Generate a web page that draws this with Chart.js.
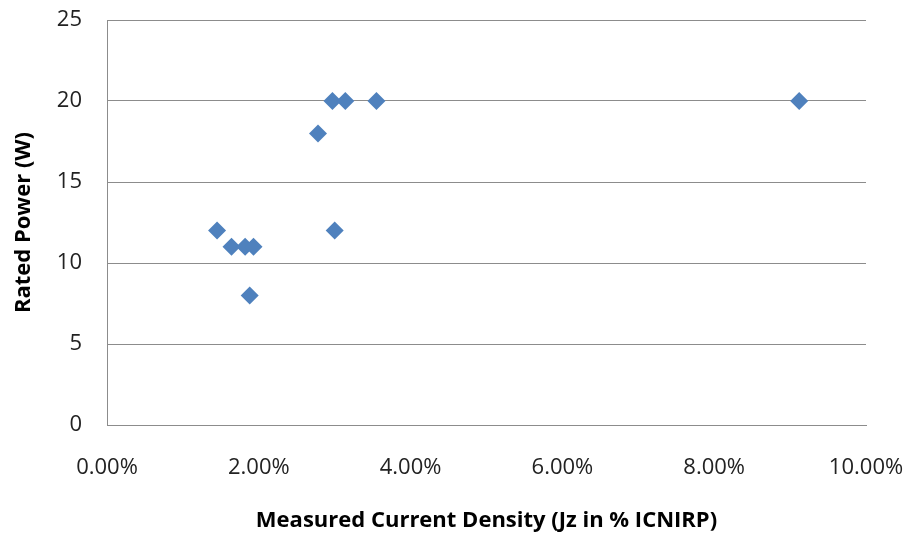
<!DOCTYPE html>
<html>
<head>
<meta charset="utf-8">
<script src="https://cdn.jsdelivr.net/npm/chart.js@4"></script>
<style>
  html, body { margin: 0; padding: 0; background: #fff; }
  canvas { display: block; }
</style>
</head>
<body>
<canvas id="jzChart" width="910" height="539"></canvas>
<script>
// measured current density (fraction of ICNIRP limit) vs rated power
const jzValues = [0.0145, 0.0164, 0.0182, 0.0193, 0.0188, 0.0278, 0.0297, 0.0314, 0.0355, 0.0300, 0.0912];
const ratedPower = [12, 11, 11, 11, 8, 18, 20, 20, 20, 12, 20];

const xTitle = 'Measured Current Density (Jz in % ICNIRP)';
const yTitle = 'Rated Power (W)';

const points = jzValues.map((v, i) => ({x: v, y: ratedPower[i]}));

const gridGrey = '#8c8c8c';
const tickFont = {family: 'Open Sans', size: 22};
const titleFont = {family: 'Open Sans', size: 22, weight: 'bold'};

new Chart(document.getElementById('jzChart'), {
    type: 'scatter',
    data: {
        datasets: [{
            data: points,
            pointStyle: 'rectRot',
            pointRadius: 9,
            pointHoverRadius: 9,
            backgroundColor: '#4F81BD',
            borderColor: '#4F81BD',
            borderWidth: 0
        }]
    },
    options: {
        responsive: false,
        animation: false,
        layout: {
            padding: {top: 20, right: 44, bottom: 0, left: 0}
        },
        plugins: {
            legend: {display: false},
            tooltip: {enabled: false}
        },
        scales: {
            x: {
                type: 'linear',
                min: 0,
                max: 0.1,
                // fixed box; end labels may spill into the margins
                afterFit: scale => {
                    scale.height = 114;
                    scale.paddingLeft = 0;
                    scale.paddingRight = 0;
                },
                grid: {display: false, drawTicks: false},
                border: {display: true, color: gridGrey, width: 1},
                ticks: {
                    stepSize: 0.02,
                    padding: 30,
                    color: '#222',
                    font: tickFont,
                    maxRotation: 0,
                    callback: v => (v * 100).toFixed(2) + '%'
                },
                title: {
                    display: true,
                    text: xTitle,
                    color: '#000',
                    font: titleFont,
                    padding: {top: 0, bottom: 5}
                }
            },
            y: {
                min: 0,
                max: 25,
                afterFit: scale => {
                    scale.width = 107;
                    scale.paddingTop = 0;
                    scale.paddingBottom = 0;
                },
                grid: {color: gridGrey, lineWidth: 1, drawTicks: false},
                border: {display: true, color: gridGrey, width: 1},
                ticks: {
                    stepSize: 5,
                    padding: 25,
                    color: '#222',
                    font: tickFont
                },
                title: {
                    display: true,
                    text: yTitle,
                    color: '#000',
                    font: titleFont,
                    padding: {top: 11, bottom: 0}
                }
            }
        }
    }
});
</script>
</body>
</html>
